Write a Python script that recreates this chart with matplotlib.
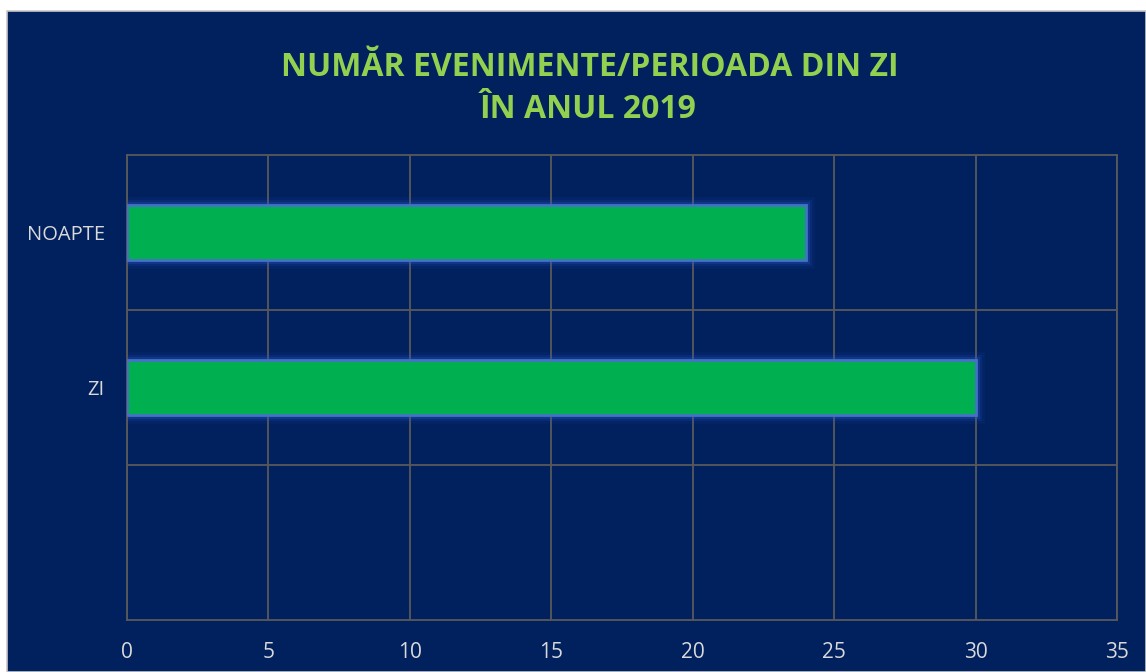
import matplotlib.pyplot as plt
from matplotlib.patches import Rectangle

categories = ["", "ZI", "NOAPTE"]
values = [0, 30, 24]
xticks = [0, 5, 10, 15, 20, 25, 30, 35]

BG = "#00205E"
GRID = "#595959"
W, H = 1146, 672

plt.rcParams["font.family"] = ["Open Sans", "DejaVu Sans"]

fig = plt.figure(figsize=(W / 100, H / 100), dpi=100)
fig.patch.set_facecolor("white")
# chart area background with thin light border
fig.patches.append(Rectangle((7 / W, 0), 1 - 7 / W, 1 - 11 / H, transform=fig.transFigure,
                             facecolor=BG, edgecolor="#C8C8C8", lw=1.2, zorder=-10))

ax = fig.add_axes([127 / W, 1 - 620 / H, (1117 - 127) / W, (620 - 155) / H])
ax.set_zorder(1)
ax.set_facecolor(BG)

ypos = list(range(len(categories)))
bar_h = 0.355
# soft blue glow behind the bars
for lw, a in [(12, 0.08), (8, 0.14), (5, 0.25)]:
    ax.barh(ypos, values, height=bar_h, color="none", edgecolor="#2A5BD0",
            lw=lw, alpha=a, zorder=2)
ax.barh(ypos, values, height=bar_h, color="#00B050", edgecolor="#4472C4",
        lw=2, zorder=3)
# hide the empty bottom slot
for c in ax.containers:
    for b, v in zip(c, values):
        if v == 0:
            b.set_visible(False)

ax.set_xlim(0, 35)
ax.set_ylim(-0.5, 2.5)
ax.set_xticks(xticks)
ax.set_xticklabels([str(t) for t in xticks], color="#D9D9D9", fontsize=15)
ax.set_yticks(ypos)
ax.set_yticklabels(categories, color="#D9D9D9", fontsize=14.5)
ax.set_yticks([0.5, 1.5], minor=True)
ax.tick_params(axis="both", which="both", length=0)
ax.tick_params(axis="x", pad=16)
ax.tick_params(axis="y", pad=16)

ax.grid(axis="x", color=GRID, lw=1.3, zorder=1)
ax.grid(axis="y", which="minor", color=GRID, lw=1.3, zorder=1)
ax.set_axisbelow(True)
for s in ax.spines.values():
    s.set_color(GRID)
    s.set_linewidth(1.3)

fig.text(590 / W, 1 - 68 / H, "NUMĂR EVENIMENTE/PERIOADA DIN ZI", ha="center", va="center",
         color="#92D050", fontsize=23, fontweight="bold")
fig.text(588 / W, 1 - 109 / H, "ÎN ANUL 2019", ha="center", va="center",
         color="#92D050", fontsize=23, fontweight="bold")

fig.savefig("out.png", dpi=100, facecolor=fig.get_facecolor())
